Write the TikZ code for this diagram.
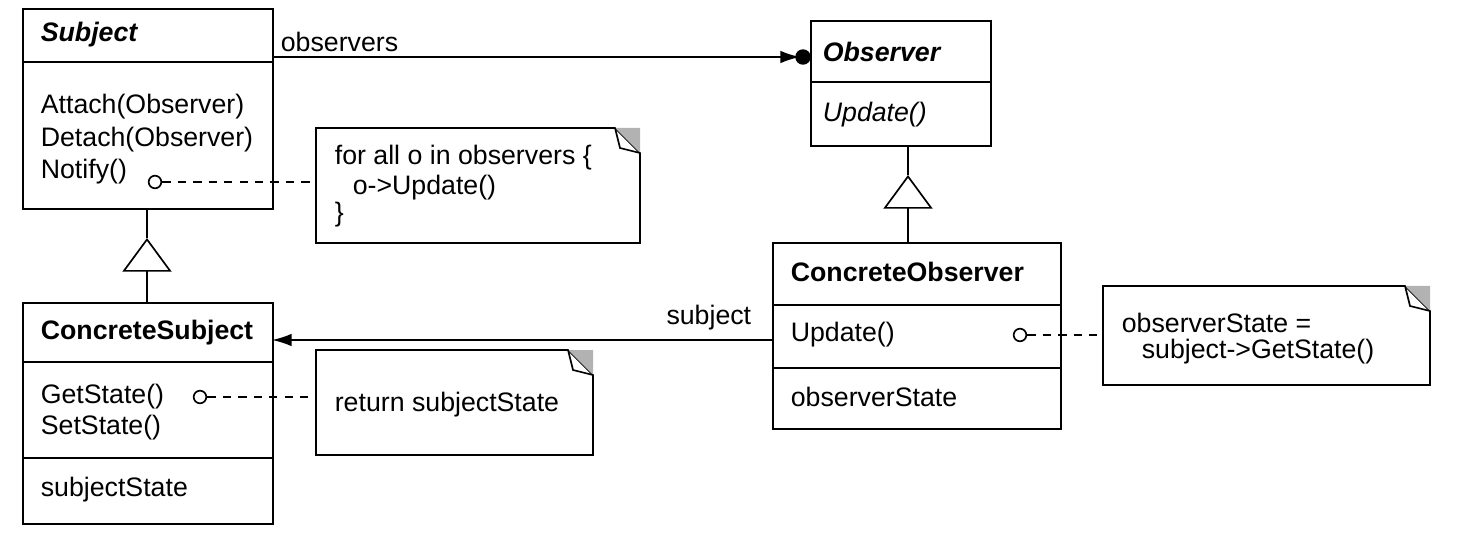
\documentclass[tikz,border=0pt]{standalone}
\usepackage{fontspec}
\setmainfont{Liberation Sans}
\usetikzlibrary{arrows.meta,positioning}
\tikzset{
  every path/.style={line width=1.2pt},
  cls/.style={draw,inner sep=0pt,anchor=north west},
  txt/.style={anchor=west,inner sep=0pt,font=\fontsize{19}{22}\selectfont},
  hd/.style={txt,font=\fontsize{19}{22}\selectfont\bfseries},
  pin/.style={draw,fill=white,circle,inner sep=0pt,minimum size=9pt},
  gen/.style={-{Triangle[open,length=24pt,width=35pt]}},
  assoc/.style={-{Latex[length=14pt,width=9pt]}},
  lnk/.style={dashed,dash pattern=on 6pt off 5pt}
}
\newcommand{\notebox}[5]{% name, x1, y1, x2, y2
  \draw (#2,#3) -- (#4-25,#3) -- (#4,#3+25) -- (#4,#5) -- (#2,#5) -- cycle;
  \fill[gray!60] (#4-25,#3) -- (#4,#3) -- (#4,#3+25) -- cycle;
  \draw (#4-25,#3) -- (#4-20,#3+20) -- (#4,#3+25);
  \coordinate (#1) at (#2,{(#3+#5)/2});
}
\begin{document}
\begin{tikzpicture}[x=0.025cm,y=-0.025cm]
  \useasboundingbox (0,0) rectangle (1459,550);

  % Subject
  \node[cls,minimum width=250*0.025cm,minimum height=200*0.025cm] (subj) at (22,8) {};
  \draw (22,62) -- (272,62);
  \node[txt,font=\fontsize{19}{22}\selectfont\bfseries\itshape] (subjname) at (40,35) {Subject};
  \node[txt] (attach) at (40,107) {Attach(Observer)};
  \node[txt] (detach) at (40,140) {Detach(Observer)};
  \node[txt] (notify) at (40,172) {Notify()};
  \node[pin] (notifypin) at (155,182) {};

  % ConcreteSubject
  \node[cls,minimum width=250*0.025cm,minimum height=221*0.025cm] (csubj) at (22,302) {};
  \draw (22,362) -- (272,362);
  \draw (22,458) -- (272,458);
  \node[hd] (csubjname) at (40,333) {ConcreteSubject};
  \node[txt] (getstate) at (40,397) {GetState()};
  \node[txt] (setstate) at (40,428) {SetState()};
  \node[txt] (substate) at (40,490) {subjectState};
  \node[pin] (getpin) at (200,397) {};

  % Observer
  \node[cls,minimum width=180*0.025cm,minimum height=125*0.025cm] (obs) at (810,20) {};
  \draw (810,82) -- (990,82);
  \node[txt,font=\fontsize{19}{22}\selectfont\bfseries\itshape] (obsname) at (822,52) {Observer};
  \node[txt,font=\fontsize{19}{22}\selectfont\itshape] (obsupd) at (822,115) {Update()};

  % ConcreteObserver
  \node[cls,minimum width=288*0.025cm,minimum height=186*0.025cm] (cobs) at (772,242) {};
  \draw (772,305) -- (1060,305);
  \draw (772,368) -- (1060,368);
  \node[hd] (cobsname) at (790,272) {ConcreteObserver};
  \node[txt] (cobsupd) at (790,335) {Update()};
  \node[txt] (obsstate) at (790,397) {observerState};
  \node[pin] (updpin) at (1020,335) {};

  % notes
  \notebox{note1}{316}{128}{640}{243}
  \node[txt] (n1a) at (334,158) {for all o in observers \{};
  \node[txt] (n1b) at (352,188) {o{-}>Update()};
  \node[txt] (n1c) at (334,215) {\}};
  \notebox{note2}{316}{350}{593}{455}
  \node[txt] (n2a) at (334,405) {return subjectState};
  \notebox{note3}{1103}{286}{1430}{385}
  \node[txt] (n3a) at (1121,323) {observerState =};
  \node[txt] (n3b) at (1141,352) {subject{-}>GetState()};

  \draw[lnk] (notifypin) -- (note1 |- notifypin);
  \draw[lnk] (getpin) -- (note2 |- getpin);
  \draw[lnk] (updpin) -- (note3 |- updpin);

  % inheritance
  \coordinate (subjbot) at (147,208);
  \coordinate (csubjtop) at (147,302);
  \coordinate (obsbot) at (908,145);
  \coordinate (cobstop) at (908,242);
  \draw[gen] (csubjtop) -- (147,238);
  \draw (147,238) -- (subjbot);
  \draw[gen] (cobstop) -- (908,175);
  \draw (908,175) -- (obsbot);

  % associations
  \coordinate (obsl) at (800,57);
  \draw[assoc] (272,57) -- (obsl);
  \fill (803,57) circle (5.5pt);
  \node[txt] (obslbl) at (280,42) {observers};
  \draw[assoc] (772,340) -- (272,340);
  \node[txt,anchor=east] (sublbl) at (752,318) {subject};
\end{tikzpicture}
\end{document}
